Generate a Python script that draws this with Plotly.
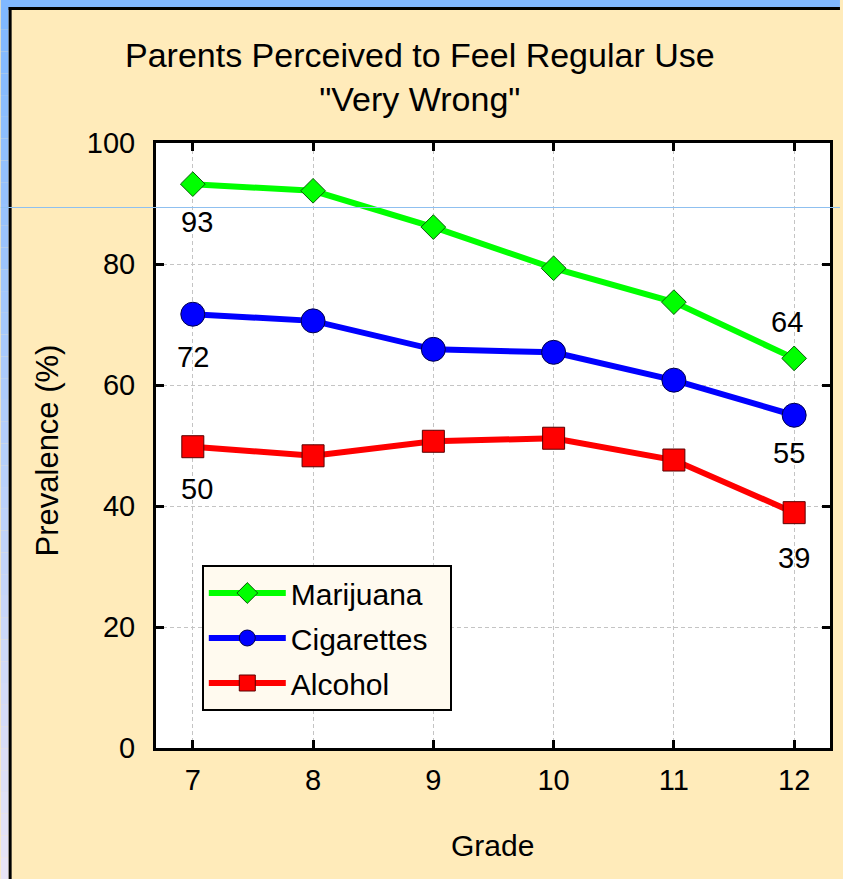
import plotly.graph_objects as go

# Survey results: share of students whose parents would feel regular use is "very wrong"
grades = [7, 8, 9, 10, 11, 12]
marijuana = [93.2, 92.1, 86.1, 79.3, 73.7, 64.4]
cigarettes = [71.7, 70.6, 65.9, 65.4, 60.8, 55.0]
alcohol = [49.8, 48.3, 50.7, 51.2, 47.6, 38.9]
y_ticks = [0, 20, 40, 60, 80, 100]

W, H = 843, 879
L, R, T, B = 156, 833, 143, 748
FONT = "Liberation Sans, Arial, sans-serif"


def px_x(x):
    return (x - L) / (R - L)


def px_y(y):
    return (B - y) / (B - T)


series = [
    ("Marijuana", marijuana, "#00FF00", "#0A5A0A", "diamond", 19),
    ("Cigarettes", cigarettes, "#0000FF", "#00004A", "circle", 24),
    ("Alcohol", alcohol, "#FF0000", "#5A0000", "square", 22),
]

fig = go.Figure()
for name, vals, color, edge, symbol, size in series:
    fig.add_trace(go.Scatter(
        x=grades, y=vals, name=name + "\u00a0\u00a0", legendgroup=name,
        mode="lines+markers",
        line=dict(color=color, width=6),
        marker=dict(symbol=symbol, size=size, color=color,
                    line=dict(color=edge, width=1)),
    ))

# value labels on the first and last grade of every series (pixel offsets)
label_offsets = {
    "Marijuana": [(4, -38), (-7, 36)],
    "Cigarettes": [(0, -43), (-5, -38)],
    "Alcohol": [(4, -42), (0, -45)],
}
annotations = []
for name, vals, *_ in series:
    for idx, (dx, dy) in zip([0, -1], label_offsets[name]):
        annotations.append(dict(
            x=grades[idx], y=vals[idx], xref="x", yref="y",
            text=str(round(vals[idx])), showarrow=False,
            xshift=dx, yshift=dy,
            font=dict(family=FONT, size=29, color="black"),
        ))

annotations += [
    dict(x=px_x(421.5), y=px_y(76.5), xref="paper", yref="paper",
         text="Parents Perceived to Feel Regular Use<br>\"Very Wrong\"",
         showarrow=False, xanchor="center", yanchor="middle",
         font=dict(family=FONT, size=34, color="black")),
    dict(x=px_x(494), y=px_y(845), xref="paper", yref="paper",
         text="Grade", showarrow=False, xanchor="center", yanchor="middle",
         font=dict(family=FONT, size=30, color="black")),
    dict(x=px_x(47), y=px_y(450), xref="paper", yref="paper",
         text="Prevalence (%)", showarrow=False, textangle=-90,
         xanchor="center", yanchor="middle",
         font=dict(family=FONT, size=31, color="black")),
]

shapes = []
# window background: blue top strip and a fading left strip
shapes.append(dict(type="rect", xref="paper", yref="paper", layer="below",
                   x0=px_x(0), x1=px_x(W), y0=px_y(0), y1=px_y(8),
                   fillcolor="#80B8FF", line=dict(width=0)))
top_c, bot_c = (128, 184, 255), (232, 228, 246)
n = 40
for i in range(n):
    t = i / (n - 1)
    c = tuple(round(a + (b - a) * t) for a, b in zip(top_c, bot_c))
    shapes.append(dict(type="rect", xref="paper", yref="paper", layer="below",
                       x0=px_x(0), x1=px_x(8),
                       y0=px_y(8 + (H - 8) * i / n),
                       y1=px_y(8 + (H - 8) * (i + 1) / n),
                       fillcolor="rgb(%d,%d,%d)" % c, line=dict(width=0)))
# black panel frame on top and left
shapes.append(dict(type="rect", xref="paper", yref="paper", layer="below",
                   x0=px_x(8), x1=px_x(W), y0=px_y(7), y1=px_y(10),
                   fillcolor="black", line=dict(width=0)))
shapes.append(dict(type="rect", xref="paper", yref="paper", layer="below",
                   x0=px_x(8), x1=px_x(11), y0=px_y(7), y1=px_y(H),
                   fillcolor="black", line=dict(width=0)))
# thin light rule across the page
shapes.append(dict(type="line", xref="paper", yref="paper", layer="above",
                   x0=px_x(0), x1=px_x(W), y0=px_y(207.5), y1=px_y(207.5),
                   line=dict(color="#8FC0F0", width=1)))

axis_common = dict(
    showline=True, linecolor="black", linewidth=3, mirror="ticks",
    ticks="inside", ticklen=8, tickwidth=3, tickcolor="black",
    showgrid=True, gridcolor="#C4C4C4", gridwidth=1, griddash="4px,3px",
    zeroline=False, tickfont=dict(family=FONT, size=29, color="black"),
)

fig.update_layout(
    width=W, height=H,
    margin=dict(l=L, r=W - R, t=T, b=H - B, pad=0),
    paper_bgcolor="#FFEBBA", plot_bgcolor="white",
    xaxis=dict(range=[6.694, 12.298], tickvals=grades,
               ticklabelstandoff=4, **axis_common),
    yaxis=dict(range=[0, 100], tickvals=y_ticks,
               ticklabelstandoff=12, **axis_common),
    legend=dict(x=px_x(202), y=px_y(565), xanchor="left", yanchor="top",
                bgcolor="#FFFAEF", bordercolor="black", borderwidth=2,
                font=dict(family=FONT, size=30, color="black"),
                itemwidth=77, tracegroupgap=3),
    showlegend=True,
    annotations=annotations,
    shapes=shapes,
)

fig.write_html("out.html", config={"displayModeBar": False})
